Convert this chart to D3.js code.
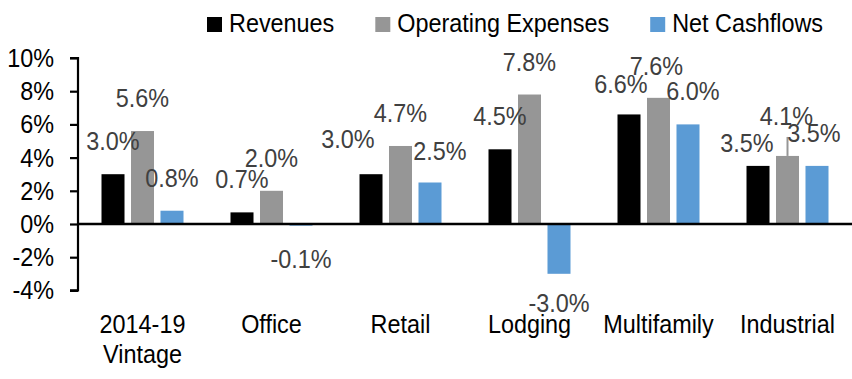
<!DOCTYPE html>
<html>
<head>
<meta charset="utf-8">
<script src="https://cdn.jsdelivr.net/npm/d3@7"></script>
<style>
  html, body { margin: 0; padding: 0; background: #fff; }
  svg { display: block; }
  text { font-family: "Liberation Sans", Arial, sans-serif; }
</style>
</head>
<body>
<svg id="chart" width="852" height="379"></svg>
<script>
// ---- data ----
const categories = ["2014-19\nVintage", "Office", "Retail", "Lodging", "Multifamily", "Industrial"];
const seriesNames = ["Revenues", "Operating Expenses", "Net Cashflows"];
const revenues = [3.0, 0.7, 3.0, 4.5, 6.6, 3.5];
const operatingExpenses = [5.6, 2.0, 4.7, 7.8, 7.6, 4.1];
const netCashflows = [0.8, -0.1, 2.5, -3.0, 6.0, 3.5];
const yTicks = [-4, -2, 0, 2, 4, 6, 8, 10];

// ---- layout / style ----
const colors = { "Revenues": "#000000", "Operating Expenses": "#969696", "Net Cashflows": "#5B9BD5" };
const plot = { left: 78, right: 852, top: 58, bottom: 290.4 };
const FS = 26, SX = 0.9;
// label nudges (dx, dy) applied to default label position, keyed "categoryIndex-seriesIndex"
const labelNudge = {
  "1-2": [0, 4],
  "2-0": [-23, -2], "2-2": [10, 1],
  "4-0": [-8, 3], "4-1": [-2, 1], "4-2": [5, 0],
  "5-0": [-11, 10], "5-1": [-1, -7], "5-2": [-3, 0]
};
const leaderLines = { "5-1": true };

const svg = d3.select("#chart");

function stext(g, x, y, str, anchor, fill) {
  return g.append("text")
    .attr("transform", `translate(${x},${y}) scale(${SX},1)`)
    .attr("text-anchor", anchor)
    .attr("font-size", FS)
    .attr("fill", fill)
    .text(str);
}

const x0 = d3.scaleBand().domain(d3.range(categories.length)).range([plot.left, plot.right]).paddingInner(0).paddingOuter(0);
const bw = x0.bandwidth();
const x1 = d3.scaleBand().domain(seriesNames).range([bw / 2 - 41, bw / 2 + 41]).paddingInner(0.22).paddingOuter(0);
const y = d3.scaleLinear().domain([-4, 10]).range([plot.bottom, plot.top]);

const seriesValues = [revenues, operatingExpenses, netCashflows];
const rows = [];
categories.forEach((c, ci) => {
  seriesNames.forEach((s, si) => {
    rows.push({ ci, si, series: s, value: seriesValues[si][ci] });
  });
});

// bars
svg.append("g").selectAll("rect").data(rows).join("rect")
  .attr("x", d => x0(d.ci) + x1(d.series))
  .attr("width", x1.bandwidth())
  .attr("y", d => y(Math.max(0, d.value)))
  .attr("height", d => Math.abs(y(d.value) - y(0)))
  .attr("fill", d => colors[d.series]);

// y axis
const yAxis = d3.axisLeft(y).tickValues(yTicks).tickSize(8).tickFormat("");
const gy = svg.append("g").attr("transform", `translate(${plot.left},0)`).call(yAxis);
gy.select(".domain").attr("stroke", "#000").attr("stroke-width", 2.2)
  .attr("d", `M-8,${y(10)}H0V${y(-4)}H-8`);
gy.selectAll(".tick line").attr("stroke", "#000").attr("stroke-width", 2.2);
gy.selectAll(".tick text").remove();
const tl = svg.append("g");
yTicks.forEach(t => stext(tl, 54, y(t) + 9, t + "%", "end", "#000"));

// zero line
svg.append("line")
  .attr("x1", plot.left).attr("x2", plot.right)
  .attr("y1", y(0)).attr("y2", y(0))
  .attr("stroke", "#000").attr("stroke-width", 2.5);

// leader lines
rows.filter(d => leaderLines[d.ci + "-" + d.si]).forEach(d => {
  const cx = x0(d.ci) + x1(d.series) + x1.bandwidth() / 2;
  svg.append("line")
    .attr("x1", cx).attr("x2", cx)
    .attr("y1", y(d.value)).attr("y2", y(d.value) - 19)
    .attr("stroke", "#969696").attr("stroke-width", 2);
});

// data labels
const dl = svg.append("g");
rows.forEach(d => {
  const n = labelNudge[d.ci + "-" + d.si] || [0, 0];
  const lx = x0(d.ci) + x1(d.series) + x1.bandwidth() / 2 + n[0];
  const ly = (d.value >= 0 ? y(d.value) - 24 : y(d.value) + 38) + n[1];
  stext(dl, lx, ly, d.value.toFixed(1) + "%", "middle", "#404040");
});

// category labels
const cg = svg.append("g");
categories.forEach((c, i) => {
  const t = cg.append("text")
    .attr("transform", `translate(${x0(i) + bw / 2},333) scale(${SX},1)`)
    .attr("text-anchor", "middle")
    .attr("font-size", FS)
    .attr("fill", "#000");
  c.split("\n").forEach((line, li) => {
    t.append("tspan").attr("x", 0).attr("y", li * 30).text(line);
  });
});

// legend
const legend = svg.append("g");
let lx = 207;
seriesNames.forEach(s => {
  legend.append("rect").attr("x", lx).attr("y", 17).attr("width", 15).attr("height", 15).attr("fill", colors[s]);
  const t = stext(legend, lx + 22, 32, s, "start", "#000");
  lx += 22 + t.node().getComputedTextLength() * SX + 41;
});
</script>
</body>
</html>
